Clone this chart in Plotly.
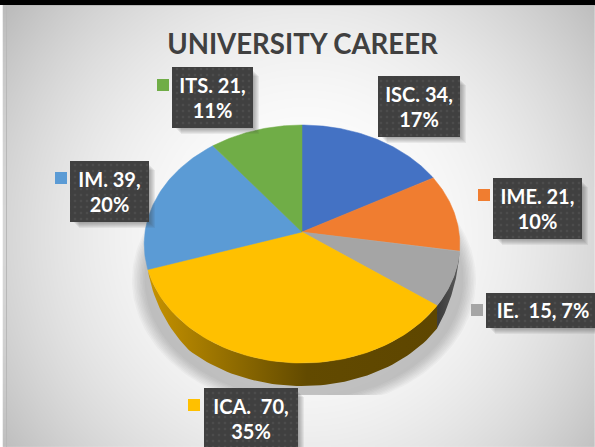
import numpy as np
import plotly.graph_objects as go

categories = ["ISC", "IME", "IE", "ICA", "IM", "ITS"]
values = [34, 21, 15, 70, 39, 21]
percents = [17, 10, 7, 35, 20, 11]
title_text = "UNIVERSITY CAREER"

W, H = 595, 447
colors = ["#4472C4", "#F07D30", "#A5A5A5", "#FFC000", "#5B9BD5", "#70AD47"]
CX, CY, RX, RY, K, DEPTH = 302, 232, 157, 117.8, 0.101, 23

# box (x0, y0, x1, y1) and legend key (x0, y0) per category
boxes = {
    "ISC": (378, 76, 460, 137),
    "IME": (493, 178, 582, 239),
    "IE": (486, 293, 600, 328),
    "ICA": (204, 388, 298, 452),
    "IM": (70, 161, 149, 222),
    "ITS": (172, 67, 253, 128),
}
keys = {"IME": (478, 189), "IE": (471, 304), "ICA": (188, 399), "IM": (55, 172), "ITS": (157, 79)}
wall_grads = {
    "IE": [[0, "#3a3a3a"], [1, "#5a5a5a"]],
    "ICA": [[0, "#C79300"], [0.3, "#8F6B00"], [0.55, "#624A00"], [1, "#5E4600"]],
}


def rim(theta):
    """Perspective projection of a tilted disc; theta clockwise from the top."""
    X, Y = np.sin(theta), np.cos(theta)
    w = 1 + K * Y
    return CX + RX * X / w, CY - RY * Y / w


fig = go.Figure()

# background
gx = np.linspace(7, W, 70)
gy = np.linspace(5, H, 55)
xx, yy = np.meshgrid(gx, gy)
r = np.hypot(xx - 305, yy - 235) / 370
fig.add_trace(go.Heatmap(x=gx, y=gy, z=255 - 66 * r ** 2.2, zmin=0, zmax=255, zsmooth="best",
                         colorscale=[[0, "#000000"], [1, "#ffffff"]], showscale=False, hoverinfo="skip"))

# pie shadow
full = np.linspace(0, 2 * np.pi, 200)
fx, fy = rim(full)
for i in range(9):
    s = 1.09 - i * 0.01
    sx = CX + (fx - CX) * s + 2
    sy = np.minimum(CY + 12 + (fy - CY) * s + DEPTH, 395)
    fig.add_trace(go.Scatter(x=sx, y=sy, mode="lines", fill="toself", fillcolor="rgba(90,90,90,0.045)",
                             line=dict(width=0), hoverinfo="skip"))

# slices
total = sum(values)
edges = np.concatenate([[0], np.cumsum(values)]) / total * 2 * np.pi
for i, cat in enumerate(categories):
    if cat in wall_grads:
        t = np.linspace(edges[i], edges[i + 1], 80)
        x, y = rim(t)
        if cat == "IE":  # wall grows from nothing at the right edge of the disc
            depth = DEPTH * np.clip((t - t[0]) / (t[-1] - t[0]), 0, 1)
        else:  # wall shrinks to nothing at the left edge of the disc
            depth = DEPTH * np.clip((t[-1] - t) / np.radians(30), 0, 1) ** 0.7
        wx = np.concatenate([x, x[::-1]])
        wy = np.concatenate([y, (y + depth)[::-1]])
        fig.add_trace(go.Scatter(x=wx, y=wy, mode="lines", fill="toself", line=dict(width=0),
                                 fillgradient=dict(type="horizontal", colorscale=wall_grads[cat],
                                                   start=float(wx.min()), stop=float(wx.max())),
                                 hoverinfo="skip"))
for i, cat in enumerate(categories):
    t = np.linspace(edges[i], edges[i + 1], 80)
    x, y = rim(t)
    fig.add_trace(go.Scatter(x=np.r_[CX, x, CX], y=np.r_[CY, y, CY], mode="lines", fill="toself",
                             fillcolor=colors[i], line=dict(width=0.5, color=colors[i]), hoverinfo="skip"))

# label boxes
for i, cat in enumerate(categories):
    x0, y0, x1, y1 = boxes[cat]
    for d in range(1, 7):
        fig.add_trace(go.Scatter(x=[x0 + 3 + d, x1 + d, x1 + d, x0 + 3 + d, x0 + 3 + d],
                                 y=[y0 + 3 + d, y0 + 3 + d, y1 + d, y1 + d, y0 + 3 + d],
                                 mode="lines", fill="toself", fillcolor="rgba(60,60,60,0.08)",
                                 line=dict(width=0), hoverinfo="skip"))
label_font = dict(family="Lato", size=20, color="#ffffff", weight="bold")
for i, cat in enumerate(categories):
    x0, y0, x1, y1 = boxes[cat]
    fig.add_trace(go.Scatter(x=[x0, x1, x1, x0, x0], y=[y0, y0, y1, y1, y0], mode="lines", fill="toself",
                             fillcolor="#404040", line=dict(width=0),
                             fillpattern=dict(shape=".", size=6, solidity=0.15, fgcolor="#585858", bgcolor="#404040"),
                             hoverinfo="skip"))
    if cat == "IE":
        lines = [f"{cat}.\u00a0 {values[i]}, {percents[i]}%"]
        bx, ys = (x0 + 595) / 2 + 2.5, [(y0 + y1) / 2 + 2]
    else:
        sep = ".\u00a0 " if cat == "ICA" else ". "
        lines = [f"{cat}{sep}{values[i]},", f"{percents[i]}%"]
        mid = y0 + 33
        bx, ys = (x0 + x1) / 2, [mid - 12.5, mid + 12.5]
    fig.add_trace(go.Scatter(x=[bx] * len(lines), y=ys, mode="text", text=lines, textposition="middle center",
                             textfont=label_font, hoverinfo="skip"))
    if cat in keys:
        kx, ky = keys[cat]
        fig.add_trace(go.Scatter(x=[kx, kx + 12, kx + 12, kx, kx], y=[ky, ky, ky + 12, ky + 12, ky], mode="lines",
                                 fill="toself", fillcolor=colors[i], line=dict(width=0), hoverinfo="skip"))

# title
fig.add_trace(go.Scatter(x=[302.5], y=[47], mode="text", text=[title_text], textposition="middle center",
                         textfont=dict(family="Lato", size=27.6, color="#404040", weight="bold"), hoverinfo="skip"))

fig.update_layout(
    width=W, height=H, margin=dict(l=0, r=0, t=0, b=0), showlegend=False,
    paper_bgcolor="#ffffff", plot_bgcolor="#ffffff",
    xaxis=dict(range=[0, W], visible=False, fixedrange=True),
    yaxis=dict(range=[H, 0], visible=False, fixedrange=True),
    shapes=[
        dict(type="rect", xref="x", yref="y", x0=0, x1=W, y0=0, y1=5, fillcolor="#000000", line=dict(width=0)),
        dict(type="rect", xref="x", yref="y", x0=6, x1=7, y0=5, y1=H, fillcolor="#b8b8b8", line=dict(width=0)),
        dict(type="rect", xref="x", yref="y", x0=7, x1=W, y0=5, y1=6, fillcolor="#b8b8b8", line=dict(width=0)),
    ],
)
fig.write_html("out.html", config=dict(displayModeBar=False),
               post_script="document.body.style.margin='0';document.documentElement.style.overflow='hidden';")
